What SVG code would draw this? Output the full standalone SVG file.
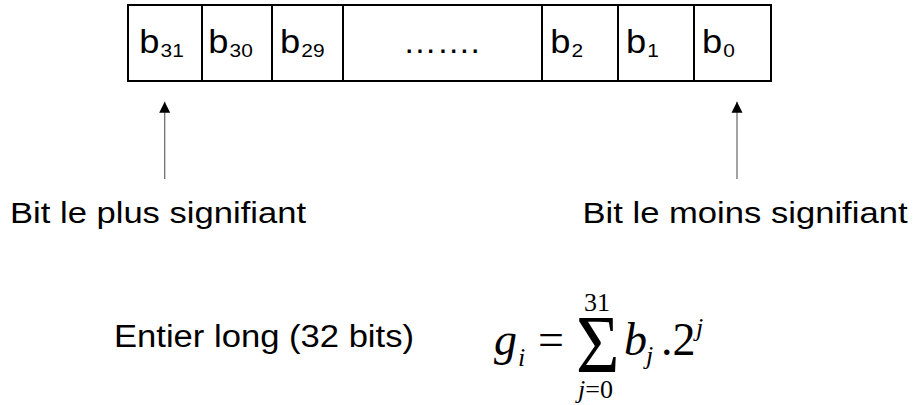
<svg xmlns="http://www.w3.org/2000/svg" width="913" height="405" viewBox="0 0 913 405">
<style>
.cell{fill:#fff;stroke:#000;stroke-width:2}
.lbl{font-family:"Liberation Sans",Arial,sans-serif;fill:#000}
.b{font-size:33px}
.sub{font-size:19px}
.math{font-family:"Liberation Serif","Times New Roman",serif;fill:#000}
.it{font-style:italic}
.conn{stroke:#707070;stroke-width:1.3;fill:none}
</style>
<defs>
<marker id="ah" markerUnits="userSpaceOnUse" markerWidth="12" markerHeight="12" viewBox="0 0 12 12" refX="11" refY="6" orient="auto">
<path d="M0,0.5 L11,6 L0,11.5 Z" fill="#000"/>
</marker>
</defs>
<rect width="913" height="405" fill="#fff"/>
<g id="cell-b31"><rect class="cell" x="128" y="5" width="74" height="76"/>
<g transform="translate(139.3,53) scale(1.1,1)"><text class="lbl b" x="0" y="0">b<tspan class="sub" dx="1" dy="4">31</tspan></text></g></g>
<g id="cell-b30"><rect class="cell" x="202" y="5" width="70" height="76"/>
<g transform="translate(208.3,53) scale(1.1,1)"><text class="lbl b" x="0" y="0">b<tspan class="sub" dx="1" dy="4">30</tspan></text></g></g>
<g id="cell-b29"><rect class="cell" x="272" y="5" width="71" height="76"/>
<g transform="translate(280,53) scale(1.1,1)"><text class="lbl b" x="0" y="0">b<tspan class="sub" dx="1" dy="4">29</tspan></text></g></g>
<g id="cell-dots"><rect class="cell" x="343" y="5" width="199" height="76"/>
<text class="lbl b" x="403" y="53" textLength="77" lengthAdjust="spacingAndGlyphs">…….</text></g>
<g id="cell-b2"><rect class="cell" x="542" y="5" width="76" height="76"/>
<g transform="translate(550.3,53) scale(1.1,1)"><text class="lbl b" x="0" y="0">b<tspan class="sub" dx="1" dy="4">2</tspan></text></g></g>
<g id="cell-b1"><rect class="cell" x="618" y="5" width="76" height="76"/>
<g transform="translate(626,53) scale(1.1,1)"><text class="lbl b" x="0" y="0">b<tspan class="sub" dx="1" dy="4">1</tspan></text></g></g>
<g id="cell-b0"><rect class="cell" x="694" y="5" width="77" height="76"/>
<g transform="translate(702,53) scale(1.1,1)"><text class="lbl b" x="0" y="0">b<tspan class="sub" dx="1" dy="4">0</tspan></text></g></g>
<g id="connectors">
<line class="conn" x1="164.7" y1="179" x2="164.7" y2="101.7" marker-end="url(#ah)"/>
<line class="conn" x1="737" y1="179" x2="737" y2="101.7" marker-end="url(#ah)"/>
</g>
<g id="label-msb"><text class="lbl" font-size="30" x="10" y="223" textLength="296" lengthAdjust="spacingAndGlyphs">Bit le plus signifiant</text></g>
<g id="label-lsb"><text class="lbl" font-size="30" x="582.5" y="223" textLength="325" lengthAdjust="spacingAndGlyphs">Bit le moins signifiant</text></g>
<g id="label-type"><text class="lbl" font-size="31" x="114" y="347" textLength="300" lengthAdjust="spacingAndGlyphs">Entier long (32 bits)</text></g>
<g id="formula">
<text class="math it" font-size="46" x="494" y="355">g</text>
<text class="math it" font-size="26" x="518" y="366">i</text>
<text class="math" font-size="46" x="538" y="355">=</text>
<text class="math" font-size="83" transform="translate(576,372) scale(0.9,1)" x="0" y="0">Σ</text>
<text class="math" font-size="26" x="584" y="311">31</text>
<text class="math" font-size="26" x="578" y="398"><tspan class="it">j</tspan>=0</text>
<text class="math it" font-size="46" x="624" y="355">b</text>
<text class="math it" font-size="26" x="646" y="364">j</text>
<text class="math" font-size="46" x="661" y="355">.2</text>
<text class="math it" font-size="26" x="696" y="336">j</text>
</g>
</svg>
